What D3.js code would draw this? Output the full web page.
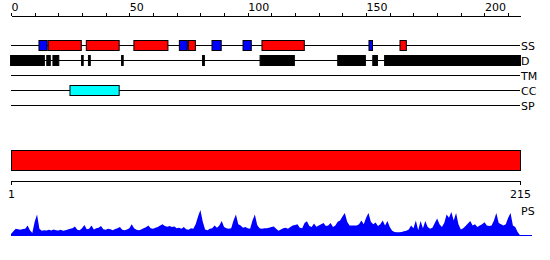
<!DOCTYPE html>
<html>
<head>
<meta charset="utf-8">
<script src="https://cdn.jsdelivr.net/npm/d3@7"></script>
<style>
  body { margin: 0; background: #fff; }
  svg { display: block; font-family: "DejaVu Sans", sans-serif; font-size: 11px; }
</style>
</head>
<body>
<div id="chart"></div>
<script>
// sequence length and track labels
const seqLength = 215;
const trackNames = ["SS", "D", "TM", "CC", "SP"];

// secondary structure: strands (blue) and helices (red), [start, end]
const ssStrands = [[11.6, 15.5], [70.9, 74.7], [84.7, 89.0], [97.8, 101.7], [151.0, 152.9]];
const ssHelices = [[15.5, 29.9], [31.6, 45.9], [51.7, 66.5], [74.7, 78.1], [105.8, 124.1], [164.1, 167.2]];
// disordered regions
const disorder = [[-0.4, 14.3], [14.9, 16.8], [17.5, 20.4], [29.6, 30.7], [32.5, 33.7], [46.5, 47.6],
                  [80.7, 81.9], [105, 119.9], [137.8, 149.9], [152.6, 155], [157.6, 215.4]];
// coiled coil
const coiledCoil = [[24.7, 45.9]];
// domain bar
const domains = [[0, 215]];
// bottom axis labels
const endLabels = ["1", "215"];

// PS profile, one value per residue 0..215
const psValues = [
  0.08,0.18,0.28,0.26,0.24,0.27,0.28,0.40,0.22,0.12,0.55,0.83,0.28,0.20,0.22,0.21,0.24,0.21,0.25,0.22,
  0.21,0.24,0.20,0.22,0.25,0.28,0.30,0.37,0.24,0.22,0.30,0.42,0.26,0.28,0.40,0.25,0.30,0.32,0.38,0.26,
  0.24,0.28,0.26,0.22,0.27,0.30,0.35,0.24,0.22,0.25,0.30,0.45,0.30,0.24,0.22,0.25,0.30,0.34,0.40,0.30,
  0.28,0.32,0.35,0.40,0.45,0.38,0.36,0.38,0.35,0.37,0.30,0.32,0.28,0.35,0.26,0.24,0.30,0.28,0.45,0.75,
  1.00,0.55,0.25,0.22,0.28,0.30,0.40,0.32,0.40,0.58,0.35,0.30,0.28,0.30,0.60,0.83,0.45,0.40,0.32,0.35,
  0.30,0.28,0.60,0.83,0.42,0.30,0.28,0.30,0.30,0.32,0.35,0.37,0.28,0.20,0.25,0.30,0.32,0.28,0.35,0.40,
  0.42,0.45,0.32,0.30,0.50,0.57,0.38,0.35,0.48,0.36,0.40,0.45,0.50,0.38,0.40,0.50,0.35,0.40,0.55,0.60,
  0.75,0.88,0.55,0.40,0.40,0.40,0.40,0.45,0.60,0.45,0.70,0.88,0.55,0.45,0.52,0.38,0.45,0.60,0.40,0.58,
  0.35,0.20,0.15,0.14,0.14,0.15,0.18,0.20,0.25,0.40,0.30,0.60,0.22,0.58,0.30,0.58,0.35,0.28,0.32,0.50,
  0.67,0.45,0.35,0.50,0.83,0.70,0.92,0.60,0.88,0.45,0.25,0.30,0.38,0.48,0.58,0.40,0.45,0.35,0.40,0.45,
  0.53,0.40,0.38,0.40,0.60,0.88,0.50,0.45,0.40,0.45,0.70,0.88,0.40,0.35,0.15,0.03
];

const width = 550, height = 260;
const svg = d3.select("#chart").append("svg")
              .attr("width", width)
              .attr("height", height);

const x = d3.scaleLinear().domain([0, seqLength]).range([11, 520]);
const yTrack = d3.scalePoint().domain(trackNames).range([45, 105]);

// === top ruler
const topAxis = d3.axisTop(x)
                  .tickValues(d3.range(0, 211, 10))
                  .tickSize(3)
                  .tickSizeOuter(0)
                  .tickFormat(d => d % 50 === 0 ? d : "");
const gTop = svg.append("g")
                .attr("transform", "translate(0,15.5)")
                .call(topAxis);
gTop.selectAll("text")
    .attr("text-anchor", "start")
    .attr("y", -5)
    .attr("font-size", 11)
    .attr("font-family", "DejaVu Sans")
    .attr("fill", "#000");
gTop.selectAll("line, path").attr("stroke", "#000").attr("shape-rendering", "crispEdges");

// === tracks
const tracks = svg.append("g");
tracks.selectAll("line")
      .data(trackNames)
      .join("line")
      .attr("x1", x(0)).attr("x2", x(seqLength))
      .attr("y1", d => yTrack(d) + 0.5).attr("y2", d => yTrack(d) + 0.5)
      .attr("stroke", "#000")
      .attr("shape-rendering", "crispEdges");
tracks.selectAll("text")
      .data(trackNames)
      .join("text")
      .attr("x", x(seqLength) + 1)
      .attr("y", d => yTrack(d) + 4.5)
      .text(d => d);

// measured edges are the outer edges of the stroke, so inset by half a pixel
function drawBoxes(data, track, fill, h){
  svg.append("g").selectAll("rect")
     .data(data)
     .join("rect")
     .attr("x", d => x(d[0]) + 0.5)
     .attr("width", d => Math.max(0.5, x(d[1]) - x(d[0]) - 1))
     .attr("y", yTrack(track) - h / 2 + 0.5)
     .attr("height", h)
     .attr("fill", fill)
     .attr("stroke", "#000")
     .attr("stroke-width", 1);
}
drawBoxes(ssHelices, "SS", "#ff0000", 10);
drawBoxes(ssStrands, "SS", "#0000ff", 10);
drawBoxes(disorder, "D", "#000", 10);
drawBoxes(coiledCoil, "CC", "#00ffff", 10);

// === domain bar
svg.append("g").selectAll("rect")
   .data(domains)
   .join("rect")
   .attr("x", d => x(d[0]) + 0.5)
   .attr("width", d => x(d[1]) - x(d[0]))
   .attr("y", 150.5)
   .attr("height", 20)
   .attr("fill", "#ff0000")
   .attr("stroke", "#000");

// === bottom ruler
const bottomAxis = d3.axisBottom(x)
                     .tickValues([0, seqLength])
                     .tickSize(4)
                     .tickSizeOuter(0)
                     .tickFormat((d, i) => endLabels[i]);
const gBottom = svg.append("g")
                   .attr("transform", "translate(0,180.5)")
                   .call(bottomAxis);
gBottom.selectAll("text")
       .attr("y", 10)
       .attr("font-size", 11)
       .attr("font-family", "DejaVu Sans")
       .attr("fill", "#000");
gBottom.selectAll("line, path").attr("stroke", "#000").attr("shape-rendering", "crispEdges");

// === PS profile
const yPS = d3.scaleLinear().domain([0, 1]).range([236, 210]);
const area = d3.area()
               .x((d, i) => x(i))
               .y0(yPS(0))
               .y1(d => yPS(d));
svg.append("path")
   .datum(psValues)
   .attr("d", area)
   .attr("fill", "#0000ff");
svg.append("line")
   .attr("x1", x(0)).attr("x2", x(seqLength) + 12)
   .attr("y1", yPS(0) - 0.5).attr("y2", yPS(0) - 0.5)
   .attr("stroke", "#0000ff");
svg.append("text")
   .attr("x", x(seqLength) + 1)
   .attr("y", 215)
   .text("PS");
</script>
</body>
</html>
